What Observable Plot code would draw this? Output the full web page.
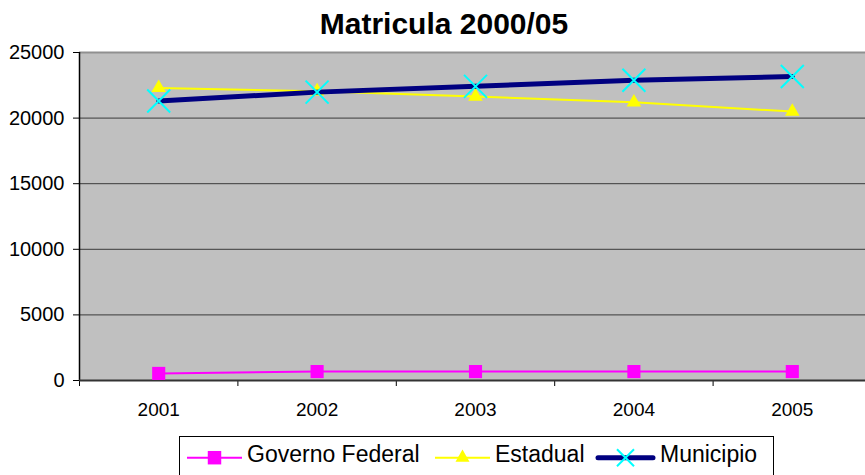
<!DOCTYPE html>
<html>
<head>
<meta charset="utf-8">
<script src="https://cdn.jsdelivr.net/npm/d3@7"></script>
<script src="https://cdn.jsdelivr.net/npm/@observablehq/plot@0.6"></script>
<style>
  html, body { margin: 0; padding: 0; background: #fff; }
  body { width: 865px; height: 475px; overflow: hidden; font-family: "Liberation Sans", Arial, sans-serif; }
  #title { height: 45px; line-height: 45px; padding-top: 1px; text-align: center; font-weight: bold; font-size: 30px; padding-left: 23px; box-sizing: border-box; }
  #chart svg { display: block; overflow: visible; }
  #legend { display: block; }
</style>
</head>
<body>
<div id="title">Matricula 2000/05</div>
<div id="chart"></div>
<svg id="legend" width="865" height="45"></svg>
<script>
// ---- data ----
const years = [2001, 2002, 2003, 2004, 2005];
const governoFederal = [540, 680, 680, 680, 680];
const estadual = [22300, 22050, 21650, 21200, 20500];
const municipio = [21300, 21980, 22420, 22880, 23170];
const yTicks = [0, 5000, 10000, 15000, 20000, 25000];
const seriesNames = ["Governo Federal", "Estadual", "Municipio"];

// table built from arrays
const rows = (vals) => years.map((y, i) => ({year: y, value: vals[i]}));
const fedRows = rows(governoFederal);
const estRows = rows(estadual);
const munRows = rows(municipio);
const boundaries = years.map(y => y - 0.5).concat([years[years.length - 1] + 0.5]);

const chart = Plot.plot({
  width: 865,
  height: 385,
  marginTop: 7,
  marginBottom: 50,
  marginLeft: 79,
  marginRight: 0,
  style: {fontFamily: "'Liberation Sans', Arial, sans-serif", fontSize: "19px", color: "#000", background: "transparent", overflow: "visible"},
  x: {domain: [boundaries[0], boundaries[boundaries.length - 1]], range: [79, 871]},
  y: {domain: [0, 25000]},
  marks: [
    Plot.frame({fill: "#C0C0C0", stroke: null}),
    Plot.ruleY(yTicks.slice(1), {stroke: "#3a3a3a", strokeWidth: 1}),
    Plot.ruleY([yTicks[yTicks.length - 1]], {stroke: "#909090", strokeWidth: 2}),
    Plot.axisY({ticks: yTicks, tickSize: 6, tickPadding: 9, tickFormat: d => String(d), label: null, fontSize: 20}),
    Plot.axisX({ticks: years, tickSize: 0, tickPadding: 22, tickFormat: d => String(d), label: null, fontSize: 19}),
    Plot.axisX({ticks: boundaries, tickSize: 6, tickFormat: () => "", label: null}),
    Plot.ruleX([boundaries[0]], {stroke: "#000", strokeWidth: 1.5}),
    Plot.ruleY([0], {stroke: "#333", strokeWidth: 2}),
    // Governo Federal
    Plot.line(fedRows, {x: "year", y: "value", stroke: "#FF00FF", strokeWidth: 2}),
    Plot.dot(fedRows, {x: "year", y: "value", symbol: "square", fill: "#FF00FF", r: 7.4}),
    // Estadual
    Plot.line(estRows, {x: "year", y: "value", stroke: "#FFFF00", strokeWidth: 2}),
    Plot.dot(estRows, {x: "year", y: "value", symbol: "triangle", fill: "#FFFF00", r: 5.4}),
    // Municipio
    Plot.line(munRows, {x: "year", y: "value", stroke: "#000080", strokeWidth: 5}),
    Plot.dot(munRows, {x: "year", y: "value", symbol: "times", stroke: "#00FFFF", strokeWidth: 2, r: 10.5})
  ]
});
document.getElementById("chart").appendChild(chart);

// ---- legend (below the chart) ----
const legendSpecs = [
  {name: seriesNames[0], line: "#FF00FF", lw: 2, marker: "square", color: "#FF00FF", r: 7.6, sx: 187, tx: 247},
  {name: seriesNames[1], line: "#FFFF00", lw: 2, marker: "triangle", color: "#FFFF00", r: 5.2, sx: 435, tx: 495},
  {name: seriesNames[2], line: "#000080", lw: 5, marker: "times", color: "#00FFFF", r: 7.8, sx: 598, tx: 660}
];
const lg = d3.select("#legend");
lg.append("rect").attr("x", 179.5).attr("y", 6.5).attr("width", 594).attr("height", 45)
  .attr("fill", "none").attr("stroke", "#000").attr("stroke-width", 1);
const symbols = {square: d3.symbolSquare, triangle: d3.symbolTriangle, times: d3.symbolTimes};
legendSpecs.forEach(s => {
  lg.append("line").attr("x1", s.sx).attr("x2", s.sx + 55).attr("y1", 27.7).attr("y2", 27.7)
    .attr("stroke", s.line).attr("stroke-width", s.lw).attr("stroke-linecap", s.lw > 3 ? "round" : "butt");
  const p = lg.append("path").attr("d", d3.symbol(symbols[s.marker], Math.PI * s.r * s.r)())
    .attr("transform", `translate(${s.sx + 27.5},27.7)`);
  if (s.marker === "times") p.attr("stroke", s.color).attr("stroke-width", 2).attr("fill", "none");
  else p.attr("fill", s.color);
  lg.append("text").attr("x", s.tx).attr("y", 32.3).text(s.name)
    .attr("font-family", "'Liberation Sans', Arial, sans-serif").attr("font-size", 23).attr("fill", "#000");
});
</script>
</body>
</html>
